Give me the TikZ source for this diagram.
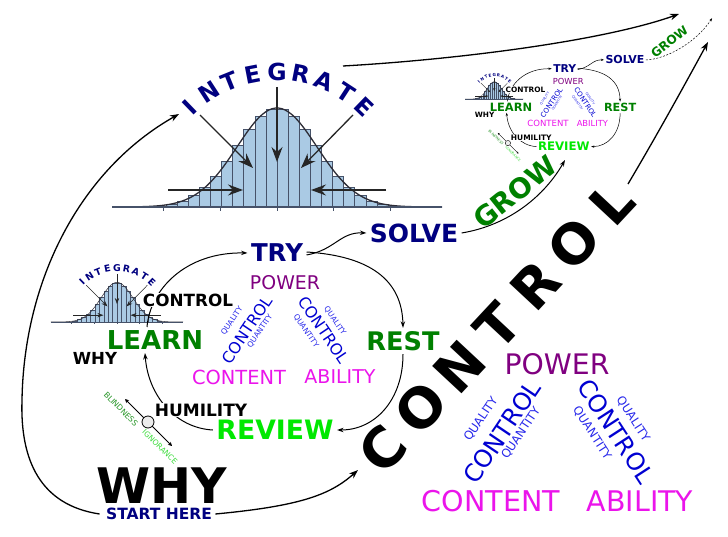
\documentclass[tikz,border=0pt]{standalone}
\usepackage{fontspec}
\setmainfont{DejaVu Sans}
\usetikzlibrary{arrows.meta}
\pgfdeclarelayer{bg}
\pgfdeclarelayer{arr}
\pgfsetlayers{bg,arr,main}
\definecolor{navy}{RGB}{0,0,128}
\definecolor{dgreen}{RGB}{0,128,0}
\definecolor{lgreen}{RGB}{0,232,0}
\definecolor{purp}{RGB}{128,0,128}
\definecolor{mag}{RGB}{235,20,235}
\definecolor{cblue}{RGB}{0,0,210}
\definecolor{qblue}{RGB}{40,40,235}
\definecolor{barfill}{RGB}{170,202,228}
\definecolor{barline}{RGB}{70,82,105}
\definecolor{curvecol}{RGB}{45,45,55}
\definecolor{blindcol}{RGB}{40,150,40}
\definecolor{igncol}{RGB}{60,220,60}
\newcommand\fsz[1]{\fontsize{#1}{#1}\selectfont}
\tikzset{
  carr/.style={line width=\cLW,-{Stealth[length=\cAH,width=\cAW]}},
  tarr/.style={line width=1.3pt,-{Stealth[length=9pt,width=6.5pt]}},
  barrow/.style={draw=black!85,line width=\bLW,-{Stealth[length=\bAH,width=\bAW,inset=\bAI]}},
}
\newcommand\bellgroup[1]{%
  \pgfmathsetmacro\bS{#1}%
  \pgfmathsetlengthmacro\bLW{1.3pt*\bS}%
  \pgfmathsetlengthmacro\bTW{0.6pt*\bS}%
  \pgfmathsetlengthmacro\bAH{15pt*\bS}%
  \pgfmathsetlengthmacro\bAW{11pt*\bS}%
  \pgfmathsetlengthmacro\bAI{5pt*\bS}%
  \foreach \i in {0,...,19}{%
    \pgfmathsetmacro\xl{166+\i*11.1}%
    \pgfmathsetmacro\hh{99*exp(-0.5*((\xl+5.55-277)/40)^2)}%
    \filldraw[fill=barfill,draw=barline,line width=\bTW] (\xl,207) rectangle ({\xl+11.1},{207-\hh});
  }%
  \draw[curvecol,line width=\bLW] plot[domain=112:442,samples=100,smooth] (\x,{207-99*exp(-0.5*((\x-277)/40)^2)});
  \draw[barline,line width=\bLW] (112,207) -- (442,207);
  \foreach \tx in {163,220,277,333,390}{\draw[barline,line width=\bTW] (\tx,207) -- (\tx,211);}%
  \draw[barrow] (277,87) -- (277,162);
  \draw[barrow] (200,115) -- (253,168);
  \draw[barrow] (353,115) -- (301,168);
  \draw[barrow] (168,190) -- (243,190);
  \draw[barrow] (386,190) -- (311,190);
  \foreach \L [count=\k from 0] in {I,N,T,E,G,R,A,T,E}{%
    \pgfmathsetmacro\ph{-44+11*\k}%
    \pgfmathsetmacro\rph{44-11*\k}%
    \node[text=navy,font={\bfseries\fsz{23.5}},rotate=\rph,inner sep=0pt] (intl\k) at ({277+125.6*sin(\ph)},{197.6-125.6*cos(\ph)}) {\L};
  }%
}
% #1 line scale, #2 out-line style, #3 out end, #4 controls
\newcommand\cyclegroup[4]{%
  \pgfmathsetlengthmacro\cLW{1pt*#1}%
  \pgfmathsetlengthmacro\cAH{6.5pt*#1}%
  \pgfmathsetlengthmacro\cAW{4.5pt*#1}%
  \pgfmathsetlengthmacro\sLW{0.8pt*#1}%
  \pgfmathsetlengthmacro\sAH{4pt*#1}%
  \begin{pgfonlayer}{bg}
  \begin{scope}[shift={(6.2,239.2)},scale=0.4,transform shape]
    \bellgroup{0.4*#1}
  \end{scope}
  \end{pgfonlayer}
  \node[font={\bfseries\fsz{16.8}},fill=white,inner sep=1pt] (ctrl) at (188,300) {CONTROL};
  \node[font={\bfseries\fsz{26}},text=dgreen] (learn) at (155,340) {LEARN};
  \node[font={\bfseries\fsz{16.6}}] (why) at (95,358) {WHY};
  \node[font={\bfseries\fsz{24.5}},text=navy] (try) at (277,253) {TRY};
  \node[font={\bfseries\fsz{25}},text=navy] (solve) at (414,233) {SOLVE};
  \node[font={\fsz{18.9}},text=purp] (power) at (285,283) {POWER};
  \node[font={\fsz{15.8}},text=cblue,rotate=56] (cl) at (247,330) {CONTROL};
  \node[font={\fsz{7.6}},text=qblue,rotate=56] (ql) at (232,321) {QUALITY};
  \node[font={\fsz{7.6}},text=qblue,rotate=56] (qnl) at (260,331) {QUANTITY};
  \node[font={\fsz{15.8}},text=cblue,rotate=-56] (cr) at (324,330) {CONTROL};
  \node[font={\fsz{7.6}},text=qblue,rotate=-56] (qr) at (335,321) {QUALITY};
  \node[font={\fsz{7.6}},text=qblue,rotate=-56] (qnr) at (306,331) {QUANTITY};
  \node[font={\fsz{19.4}},text=mag] (content) at (239,377) {CONTENT};
  \node[font={\fsz{19}},text=mag] (ability) at (340,377) {ABILITY};
  \node[font={\bfseries\fsz{25.6}},text=dgreen] (rest) at (403,341) {REST};
  \node[font={\bfseries\fsz{26.7}},text=lgreen] (review) at (275,430) {REVIEW};
  \node[font={\bfseries\fsz{17}},fill=white,inner sep=1pt] (hum) at (201,410) {HUMILITY};
  \node[font={\fsz{7.8}},text=blindcol,rotate=-45] (blind) at (121,409) {BLINDNESS};
  \node[font={\fsz{7.6}},text=igncol,rotate=-45] (ign) at (160,447) {IGNORANCE};
  \coordinate (s1) at (125,399);
  \coordinate (s2) at (172,446);
  \node[circle,draw,fill=gray!15,minimum size=12pt,inner sep=0pt,line width=\sLW] (knob) at (148,422) {};
  \node[font={\bfseries\fsz{27.7}},text=dgreen,rotate=38.7] (grow) at (515,192) {GROW};
  \coordinate (outend) at #3;
  \begin{pgfonlayer}{arr}
  \draw[carr] ([xshift=-8pt]learn.north) .. controls (150,290) and (185,252) .. (try.west);
  \draw[carr] ([yshift=1pt]try.east) .. controls (370,256) and (402,280) .. (rest.north);
  \draw[carr] ([yshift=-2pt]try.east) .. controls (335,250) and (340,232) .. (solve.west);
  \draw[carr] (rest.south) .. controls (403,400) and (375,430) .. (review.east);
  \draw[carr] (review.west) .. controls (175,428) and (148,395) .. ([xshift=-10pt]learn.south);
  \draw[carr,#2] (solve.east) .. controls #4 .. (outend);
  \draw[line width=\sLW,{Stealth[length=\sAH,width=\sAH]}-{Stealth[length=\sAH,width=\sAH]}] (s1) -- (s2);
  \end{pgfonlayer}
}
\begin{document}
\begin{tikzpicture}[x=1pt,y=-1pt]
\useasboundingbox (0,0) rectangle (728,537);
\begin{pgfonlayer}{bg}
  \fill[white] (0,0) rectangle (728,537);
  \bellgroup{1}
\end{pgfonlayer}
% big level texts
\node[font={\bfseries\fsz{49}}] (bigwhy) at (162,486) {WHY};
\node[font={\bfseries\fsz{15.5}},text=navy] (start) at (159,514) {START HERE};
\foreach \L [count=\k from 0] in {C,O,N,T,R,O,L}{%
  \node[font={\bfseries\fsz{55}},rotate=47,inner sep=0pt] (bc\k) at ({383+\k*38.17},{449-\k*41}) {\L};
}
\node[font={\fsz{28.3}},text=purp] (bpower) at (557,364) {POWER};
\node[font={\fsz{24.2}},text=cblue,rotate=56] (bcl) at (502,432) {CONTROL};
\node[font={\fsz{11.8}},text=qblue,rotate=56] (bql) at (481,419) {QUALITY};
\node[font={\fsz{11.8}},text=qblue,rotate=56] (bqnl) at (521,433) {QUANTITY};
\node[font={\fsz{24.2}},text=cblue,rotate=-57] (bcr) at (616,431) {CONTROL};
\node[font={\fsz{11.8}},text=qblue,rotate=-57] (bqr) at (633,419) {QUALITY};
\node[font={\fsz{11.8}},text=qblue,rotate=-57] (bqnr) at (592,433) {QUANTITY};
\node[font={\fsz{28.6}},text=mag] (bcontent) at (491,501) {CONTENT};
\node[font={\fsz{28.4}},text=mag] (bability) at (640,501) {ABILITY};
% middle cycle
\cyclegroup{1}{solid}{(565,160)}{(510,225) and (545,195)}
% mini cycle
\begin{scope}[shift={(442.8,-42.6)},scale=0.44,transform shape]
  \cyclegroup{0.5}{dash pattern=on 2pt off 1.5pt}{(612,138)}{(505,232) and (575,195)}
\end{scope}
% top level connectors
\coordinate (intI) at (179,114);
\coordinate (intE) at (343,66);
\coordinate (bigCtip) at (358,470);
\coordinate (cL) at (628,184);
\coordinate (tr1) at (679,14);
\coordinate (tr2) at (708,42);
\begin{pgfonlayer}{arr}
\draw[tarr] ([xshift=-3pt]start.west) .. controls (40,505) and (20,460) .. (22,400) .. controls (24,280) and (80,170) .. (intI);
\draw[tarr] (start.east) .. controls (300,506) and (330,495) .. (bigCtip);
\draw[tarr] (intE) .. controls (450,60) and (600,42) .. (tr1);
\draw[tarr] (cL) .. controls (660,130) and (690,75) .. (tr2);
\end{pgfonlayer}
\end{tikzpicture}
\end{document}
